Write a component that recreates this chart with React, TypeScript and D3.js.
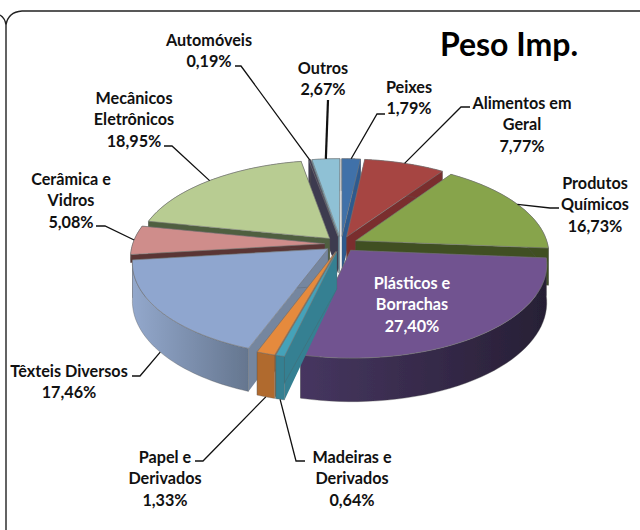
import React from 'react';
import * as d3 from 'd3';

// values in pie order, clockwise from 12 o'clock
const sliceNames = ['Peixes', 'Alimentos', 'Quimicos', 'Plasticos', 'Madeiras', 'Papel', 'Texteis', 'Ceramica', 'Mecanicos', 'Automoveis', 'Outros'];
const sliceValues = [1.79, 7.77, 16.73, 27.4, 0.64, 1.33, 17.46, 5.08, 18.95, 0.19, 2.67];
const sliceLabels = [
  ['Peixes', '1,79%'],
  ['Alimentos em', 'Geral', '7,77%'],
  ['Produtos', 'Químicos', '16,73%'],
  ['Plásticos e', 'Borrachas', '27,40%'],
  ['Madeiras e', 'Derivados', '0,64%'],
  ['Papel e', 'Derivados', '1,33%'],
  ['Têxteis Diversos', '17,46%'],
  ['Cerâmica e', 'Vidros', '5,08%'],
  ['Mecânicos', 'Eletrônicos', '18,95%'],
  ['Automóveis', '0,19%'],
  ['Outros', '2,67%'],
];
const topColors = ['#3f71a9', '#a64442', '#87a44c', '#715390', '#44a2b9', '#e58a3e', '#8fa6cf', '#cf8d8b', '#b8cc92', '#3e3a50', '#8fc1d5'];
const sideColors = ['#2e5a8e', '#7a2f2e', '#3f4f22', '#2f2440', '#348092', '#b06a2e', '#75869f', '#5a3534', '#4f5f3f', '#3e3a50', '#6fa0b0'];
// rim walls, only a few of them show
const rimColors = ['#2e5a8e', '#7a2f2e', '#3f4f22', 'url(#wallPlasticos)', '#348092', '#b06a2e', 'url(#wallTexteis)', '#5a3534', '#4f5f3f', '#3e3a50', '#6fa0b0'];

// label placement: centre x, first line centre y
const labelX = [409, 522, 595, 412, 352, 165, 69, 71, 134, 209, 323];
const labelY = [87, 103, 183, 283, 457, 457, 371, 179, 98, 40, 68];
// leader start and elbow, the far end is worked out from the pie
const leaderStart = [[385, 114], [470, 107], [559, 208], null, [305, 461], [195, 461], [132, 376], [96, 226], [164, 146], [235, 66], [328, 100]];
const leaderElbow = [[377, 114], [461, 107], [550, 208], null, [296, 461], [203, 461], [140, 376], [105, 226], [172, 146], [241, 66], [328, 100]];
const leaderOnBottom = [false, false, false, false, true, true, true, false, false, false, false];

const width = 640;
const height = 530;
const cx = 341;
const cy = 244;
const rx = 192;
const ry = 90.7;
const tilt = 0.141; // perspective, back of the pie is smaller
const depth = 37;
const explode = 0.085;

const project = (u: number, v: number, z = 0): [number, number] => {
  const s = 1 / (1 + tilt * v);
  return [cx + rx * u * s, cy - ry * v * s + z * s];
};

const pie = d3.pie<number>().sort(null).startAngle(0).endAngle(2 * Math.PI);
const arcs = pie(sliceValues);
const line = d3.line();

const slices = arcs.map((a, i) => {
  const mid = (a.startAngle + a.endAngle) / 2;
  const ox = explode * Math.sin(mid);
  const oy = explode * Math.cos(mid);
  // ceramica sits behind texteis, a full wall would stick out at the left tip
  const d = sliceNames[i] === 'Ceramica' ? 8 : depth;
  const steps = d3.range(0, 41).map((k) => a.startAngle + ((a.endAngle - a.startAngle) * k) / 40);
  const rim = (z: number) => steps.map((t) => project(ox + Math.sin(t), oy + Math.cos(t), z));
  const apex = (z: number) => project(ox, oy, z);
  const top = line([apex(0), ...rim(0)]) + 'Z';
  const outer = line([...rim(0), ...rim(d).reverse()]) + 'Z';
  const wall = (t: number) =>
    line([apex(0), project(ox + Math.sin(t), oy + Math.cos(t), 0), project(ox + Math.sin(t), oy + Math.cos(t), d), apex(d)]) + 'Z';
  return {
    i,
    mid,
    top,
    outer,
    wallA: wall(a.startAngle),
    wallB: wall(a.endAngle),
    edge: project(ox + Math.sin(mid), oy + Math.cos(mid), leaderOnBottom[i] ? depth : 0),
  };
});

// painter's order, back of the pie first
const drawOrder = d3.sort(slices, (s) => -Math.cos(s.mid));

export default function App() {
  return (
    <svg
      width={width}
      height={height}
      style={{ position: 'absolute', left: 0, top: 0, background: '#fff' }}
      fontFamily="Lato, 'Open Sans', sans-serif"
      fontWeight={700}
    >
      <defs>
        <linearGradient id="wallTexteis" x1="0" x2="1" y1="0" y2="0">
          <stop offset="0" stopColor="#93a8cc" />
          <stop offset="1" stopColor="#65768f" />
        </linearGradient>
        <linearGradient id="wallPlasticos" x1="0" x2="1" y1="0" y2="0">
          <stop offset="0" stopColor="#463660" />
          <stop offset="1" stopColor="#271f35" />
        </linearGradient>
        <filter id="soft" x="-5%" y="-5%" width="110%" height="110%">
          <feGaussianBlur stdDeviation="0.45" />
        </filter>
      </defs>

      <path d="M0,15 Q5,18 6,25 Q8,12 22,11 H640 M6,25 V530" fill="none" stroke="#222" strokeWidth={1.4} />

      <g filter="url(#soft)">
        {drawOrder.map((s) => (
          <g key={sliceNames[s.i]}>
            <path d={s.wallA} fill={sideColors[s.i]} />
            <path d={s.wallB} fill={sideColors[s.i]} stroke="#555" strokeOpacity={0.4} strokeWidth={0.7} />
            <path d={s.outer} fill={rimColors[s.i]} stroke="#555" strokeOpacity={0.5} strokeWidth={0.7} />
            <path d={s.top} fill={topColors[s.i]} stroke="#777" strokeOpacity={0.7} strokeWidth={0.9} />
          </g>
        ))}
      </g>

      {slices.map((s) =>
        leaderStart[s.i] ? (
          <path
            key={sliceNames[s.i]}
            d={line([leaderStart[s.i] as [number, number], leaderElbow[s.i] as [number, number], s.edge]) as string}
            fill="none"
            stroke="#111"
            strokeWidth={sliceNames[s.i] === 'Outros' ? 2.2 : 1.3}
          />
        ) : null,
      )}

      {sliceLabels.map((lines, i) => (
        <text key={sliceNames[i]} textAnchor="middle" fontSize={16.2} fill={sliceNames[i] === 'Plasticos' ? '#fff' : '#111'}>
          {lines.map((t, j) => (
            <tspan key={j} x={labelX[i]} y={labelY[i] + j * 21.4} dy="0.36em">
              {t}
            </tspan>
          ))}
        </text>
      ))}

      <text x={509} y={44} dy="0.36em" textAnchor="middle" fontSize={32} fill="#000">
        Peso Imp.
      </text>
    </svg>
  );
}
